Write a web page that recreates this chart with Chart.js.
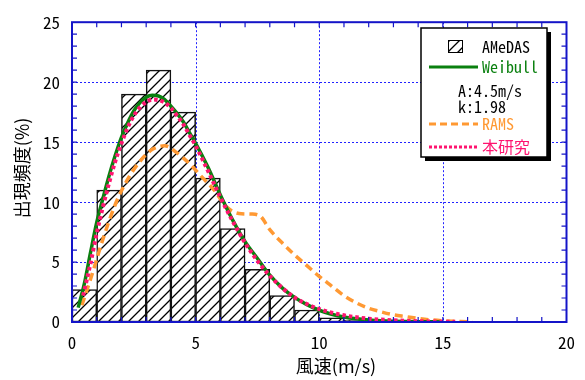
<!DOCTYPE html>
<html>
<head>
<meta charset="utf-8">
<script src="https://cdn.jsdelivr.net/npm/chart.js@4.4.1/dist/chart.umd.min.js"></script>
<style>
  html, body { margin: 0; padding: 0; background: #fff; }
  #wrap { width: 585px; height: 380px; }
</style>
</head>
<body>
<div id="wrap"><canvas id="chart" width="585" height="380"></canvas></div>
<script>
// histogram (AMeDAS), 1 m/s bins, value at bin centre
const binCenters = [0.5, 1.5, 2.5, 3.5, 4.5, 5.5, 6.5, 7.5, 8.5, 9.5, 10.5, 11.5, 12.5];
const amedasFreq = [2.7, 11.0, 19.0, 21.0, 17.5, 12.0, 7.8, 4.4, 2.2, 1.0, 0.35, 0.15, 0.05];

// Weibull fit (A:4.5m/s, k:1.98)
const weibullX = [0.25, 0.5, 0.75, 1.0, 1.25, 1.5, 1.75, 2.0, 2.25, 2.5, 2.75, 3.0, 3.25, 3.5, 3.75, 4.0, 4.25, 4.5, 4.75, 5.0,
  5.5, 6.0, 6.5, 7.0, 7.5, 8.0, 8.5, 9.0, 9.5, 10, 10.5, 11, 11.5, 12, 12.5, 13, 14, 15];
const weibullY = [1.2, 3.2, 5.8, 8.3, 10.3, 12.2, 13.9, 15.4, 16.6, 17.6, 18.3, 18.75, 18.9, 18.85, 18.55, 18.0, 17.4, 16.7, 15.8, 14.9,
  12.9, 10.6, 8.5, 6.7, 5.3, 3.9, 2.85, 2.05, 1.45, 0.98, 0.65, 0.42, 0.27, 0.17, 0.1, 0.06, 0.02, 0.01];

// RAMS
const ramsX = [0.4, 0.8, 1.25, 1.75, 2.25, 2.75, 3.25, 3.75, 4.25, 4.75, 5.25, 5.75, 6.25, 6.75, 7.25, 7.6, 8.0, 8.5, 9.0, 9.5,
  10, 10.5, 11, 11.5, 12, 12.5, 13, 13.5, 14, 14.5, 15, 15.5, 16, 16.2];
const ramsY = [1.4, 3.9, 6.9, 9.8, 11.9, 13.4, 14.4, 14.7, 14.1, 13.2, 12.1, 11.0, 9.6, 9.05, 9.0, 8.85, 7.7, 6.6, 5.6, 4.7,
  3.8, 3.0, 2.2, 1.6, 1.15, 0.85, 0.6, 0.45, 0.3, 0.18, 0.1, 0.06, 0.03, 0.0];

// 本研究
const studyX = [0.45, 0.75, 1.0, 1.25, 1.5, 1.75, 2.0, 2.25, 2.5, 2.75, 3.0, 3.25, 3.5, 3.75, 4.0, 4.25, 4.5, 4.75, 5.0,
  5.5, 6.0, 6.5, 7.0, 7.5, 8.0, 8.5, 9.0, 9.5, 10, 10.5, 11, 11.5, 12, 12.5, 13, 13.5, 14, 14.5, 15, 15.5];
const studyY = [2.2, 4.9, 7.4, 9.6, 11.6, 13.4, 14.9, 16.2, 17.2, 17.9, 18.35, 18.55, 18.5, 18.3, 17.85, 17.2, 16.5, 15.6, 14.7,
  12.6, 10.4, 8.4, 6.6, 5.1, 3.85, 2.85, 2.05, 1.5, 1.08, 0.78, 0.56, 0.4, 0.28, 0.2, 0.14, 0.1, 0.07, 0.05, 0.03, 0.02];

const xTicks = [0, 5, 10, 15, 20];
const yTicks = [0, 5, 10, 15, 20, 25];

const FONT = '"Noto Sans Mono CJK JP", "Noto Sans CJK JP", monospace';
const BLUE = "#1414c8";
const GRID = "#2222ff";
const GREEN = "#0a800f";
const ORANGE = "#ff9933";
const PINK = "#ff1470";

function hatch() {
  const n = 10;
  const c = document.createElement("canvas");
  c.width = n; c.height = n;
  const g = c.getContext("2d");
  g.fillStyle = "#fff";
  g.fillRect(0, 0, n, n);
  g.strokeStyle = "#000";
  g.lineWidth = 1.3;
  g.beginPath();
  g.moveTo(-1, n + 1); g.lineTo(n + 1, -1);
  g.moveTo(-1, 1); g.lineTo(1, -1);
  g.moveTo(n - 1, n + 1); g.lineTo(n + 1, n - 1);
  g.stroke();
  return g.createPattern(c, "repeat");
}
const hatchFill = hatch();

const pts = (xs, ys) => xs.map((x, i) => ({ x: x, y: ys[i] }));

const decor = {
  id: "decor",
  beforeDatasetsDraw(chart) {
    // dotted blue grid at major ticks
    const { ctx, chartArea: a, scales: { x, y } } = chart;
    ctx.save();
    ctx.strokeStyle = GRID;
    ctx.lineWidth = 1;
    ctx.setLineDash([2, 2]);
    ctx.beginPath();
    xTicks.slice(1, -1).forEach(v => {
      const px = Math.round(x.getPixelForValue(v)) + 0.5;
      ctx.moveTo(px, a.top); ctx.lineTo(px, a.bottom);
    });
    yTicks.slice(1, -1).forEach(v => {
      const py = Math.round(y.getPixelForValue(v)) + 0.5;
      ctx.moveTo(a.left, py); ctx.lineTo(a.right, py);
    });
    ctx.stroke();
    ctx.restore();
  },
  afterDraw(chart) {
    const { ctx, chartArea: a, scales: { x, y } } = chart;
    ctx.save();
    // frame
    ctx.strokeStyle = BLUE;
    ctx.lineWidth = 2;
    ctx.strokeRect(a.left, a.top, a.right - a.left, a.bottom - a.top);
    // inward ticks every 1 unit
    ctx.lineWidth = 1.2;
    ctx.beginPath();
    for (let v = 1; v < 20; v++) {
      const px = x.getPixelForValue(v);
      ctx.moveTo(px, a.bottom); ctx.lineTo(px, a.bottom - 5);
      ctx.moveTo(px, a.top); ctx.lineTo(px, a.top + 5);
    }
    for (let v = 1; v < 25; v++) {
      const py = y.getPixelForValue(v);
      ctx.moveTo(a.left, py); ctx.lineTo(a.left + 5, py);
      ctx.moveTo(a.right, py); ctx.lineTo(a.right - 5, py);
    }
    ctx.stroke();

    // axis titles
    ctx.fillStyle = "#000";
    ctx.font = '18px "Noto Sans CJK JP"';
    ctx.textAlign = "center";
    ctx.textBaseline = "middle";
    ctx.fillText("風速(m/s)", 336, 366);
    ctx.save();
    ctx.translate(22, 168);
    ctx.rotate(-Math.PI / 2);
    ctx.fillText("出現頻度(%)", 0, 0);
    ctx.restore();

    // legend box
    const bx = 421, by = 28, bw = 126, bh = 129;
    ctx.fillStyle = "#000";
    ctx.fillRect(bx + 4, by + 4, bw, bh);
    ctx.fillStyle = "#fff";
    ctx.fillRect(bx, by, bw, bh);
    ctx.strokeStyle = "#000";
    ctx.lineWidth = 1.5;
    ctx.strokeRect(bx, by, bw, bh);

    ctx.fillStyle = hatchFill;
    ctx.fillRect(448, 40, 15, 13);
    ctx.lineWidth = 1;
    ctx.strokeRect(448.5, 40.5, 14, 12);

    ctx.font = "16px " + FONT;
    ctx.textAlign = "left";
    ctx.textBaseline = "middle";
    ctx.fillStyle = "#000";
    ctx.fillText("AMeDAS", 482, 47);

    ctx.lineWidth = 3;
    ctx.strokeStyle = GREEN;
    ctx.beginPath(); ctx.moveTo(429, 67); ctx.lineTo(478, 67); ctx.stroke();
    ctx.fillStyle = GREEN;
    ctx.fillText("Weibull", 482, 67);

    ctx.fillStyle = "#000";
    ctx.fillText("A:4.5m/s", 458, 91);
    ctx.fillText("k:1.98", 458, 107);

    ctx.strokeStyle = ORANGE;
    ctx.setLineDash([7, 4]);
    ctx.beginPath(); ctx.moveTo(429, 124); ctx.lineTo(478, 124); ctx.stroke();
    ctx.fillStyle = ORANGE;
    ctx.fillText("RAMS", 482, 124);

    ctx.strokeStyle = PINK;
    ctx.setLineDash([3, 2]);
    ctx.beginPath(); ctx.moveTo(429, 147); ctx.lineTo(478, 147); ctx.stroke();
    ctx.setLineDash([]);
    ctx.fillStyle = PINK;
    ctx.fillText("本研究", 482, 147);
    ctx.restore();
  }
};

new Chart(document.getElementById("chart"), {
  type: "line",
  data: {
    datasets: [
      {
        type: "bar",
        label: "AMeDAS",
        data: pts(binCenters, amedasFreq),
        backgroundColor: hatchFill,
        borderColor: "#111",
        borderWidth: 1.5,
        borderSkipped: false,
        barPercentage: 1,
        categoryPercentage: 1,
        order: 4
      },
      {
        label: "RAMS",
        data: pts(ramsX, ramsY),
        borderColor: ORANGE,
        borderWidth: 3.5,
        borderDash: [8, 5],
        pointRadius: 0,
        cubicInterpolationMode: "monotone",
        order: 3
      },
      {
        label: "Weibull",
        data: pts(weibullX, weibullY),
        borderColor: GREEN,
        borderWidth: 3.5,
        pointRadius: 0,
        cubicInterpolationMode: "monotone",
        order: 2
      },
      {
        label: "本研究",
        data: pts(studyX, studyY),
        borderColor: PINK,
        borderWidth: 4,
        borderDash: [3.5, 3],
        pointRadius: 0,
        cubicInterpolationMode: "monotone",
        order: 1
      }
    ]
  },
  options: {
    responsive: false,
    animation: false,
    events: [],
    layout: { padding: { top: 11, right: 17, left: 0, bottom: 0 } },
    plugins: { legend: { display: false }, tooltip: { enabled: false } },
    scales: {
      x: {
        type: "linear",
        min: 0, max: 20,
        offset: false,
        afterBuildTicks: s => { s.ticks = xTicks.map(v => ({ value: v })); },
        afterFit: s => { s.height = 58; },
        ticks: { color: "#000", font: { family: FONT, size: 17 }, padding: 10, maxRotation: 0 },
        grid: { display: false, drawTicks: false, offset: false },
        border: { display: false }
      },
      y: {
        type: "linear",
        min: 0, max: 25,
        afterBuildTicks: s => { s.ticks = yTicks.map(v => ({ value: v })); },
        afterFit: s => { s.width = 72; },
        ticks: { color: "#000", font: { family: FONT, size: 17 }, padding: 12 },
        grid: { display: false, drawTicks: false },
        border: { display: false }
      }
    }
  },
  plugins: [decor]
});
</script>
</body>
</html>
